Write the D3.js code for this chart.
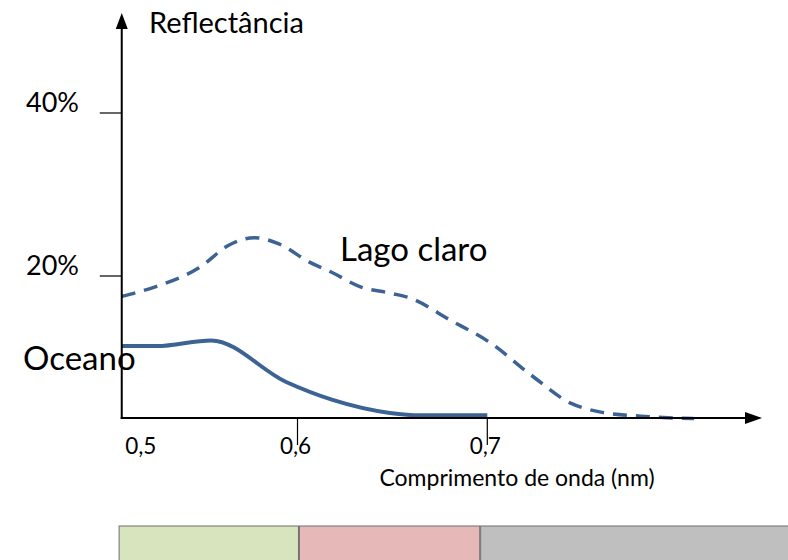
<!DOCTYPE html>
<html><head><meta charset="utf-8">
<script src="https://cdn.jsdelivr.net/npm/d3@7"></script>
<style>body{margin:0;background:#fff}svg{display:block}text{font-family:Lato,"Noto Sans",sans-serif;fill:#000}</style>
</head><body><svg id="c" width="788" height="560"></svg>
<script>
// ---- data ----
const xTicks = [0.5, 0.6, 0.7];
const xTickLabels = ["0,5", "0,6", "0,7"];
const yTicks = [20, 40];
const yTickLabels = ["20%", "40%"];
const oceanoX = [0.5074, 0.526, 0.5545, 0.594, 0.6185, 0.6487, 0.6646, 0.70];
const oceanoY = [11.4, 11.4, 12.1, 7.0, 4.8, 3.2, 2.9, 2.9];
const lagoX = [0.5074, 0.5254, 0.5481, 0.564, 0.5772, 0.5905, 0.6063, 0.6185, 0.6328, 0.6487, 0.6593, 0.6804, 0.7016, 0.7228, 0.7439, 0.7598, 0.781, 0.809];
const lagoY = [17.5, 18.7, 21.0, 23.8, 24.7, 23.9, 21.7, 20.4, 18.7, 17.9, 17.3, 14.6, 11.8, 7.9, 4.4, 3.3, 2.8, 2.5];
const bandStart = [0.506, 0.601, 0.6965];
const bandEnd = [0.6005, 0.696, 0.87];
const bandColors = ["#d7e4bd", "#e6b9b8", "#bfbfbf"];
const seriesNames = ["Oceano", "Lago claro"];

const svg = d3.select("#c");
const x = d3.scaleLinear().domain([0.6, 0.7]).range([297.5, 487.3]);
const y = d3.scaleLinear().domain([20, 40]).range([276, 113]);
const axX = x(0.5074), axY = 418;
const lineColor = "#3c6393";

// bands
svg.selectAll("rect.band").data(bandStart).join("rect")
  .attr("x", (d) => x(d)).attr("y", 526)
  .attr("width", (d, i) => x(bandEnd[i]) - x(d)).attr("height", 40)
  .attr("fill", (d, i) => bandColors[i]).attr("stroke", "#6e6e6e").attr("stroke-width", 1);

// lines
const line = d3.line().x(d => x(d[0])).y(d => y(d[1])).curve(d3.curveMonotoneX);
svg.append("path").datum(oceanoX.map((v, i) => [v, oceanoY[i]]))
  .attr("d", line).attr("fill", "none").attr("stroke", lineColor).attr("stroke-width", 4);
svg.append("path").datum(lagoX.map((v, i) => [v, lagoY[i]]))
  .attr("d", line).attr("fill", "none").attr("stroke", lineColor).attr("stroke-width", 3.5)
  .attr("stroke-dasharray", "14,9");

// axes
svg.append("line").attr("x1", axX).attr("x2", axX).attr("y1", 26).attr("y2", axY + 1).attr("stroke", "#000").attr("stroke-width", 2);
svg.append("line").attr("x1", axX - 1).attr("x2", 747).attr("y1", axY).attr("y2", axY).attr("stroke", "#000").attr("stroke-width", 2);
svg.append("path").attr("d", `M${axX},13 L${axX - 6},29 L${axX + 6},29 Z`).attr("fill", "#000");
svg.append("path").attr("d", `M762,${axY} L745,${axY - 6} L745,${axY + 6} Z`).attr("fill", "#000");

// y ticks
yTicks.forEach((t, i) => {
  svg.append("line").attr("x1", axX - 22).attr("x2", axX).attr("y1", y(t)).attr("y2", y(t)).attr("stroke", "#000").attr("stroke-width", 1.2);
  svg.append("text").attr("x", 26).attr("y", y(t) - 1).attr("font-size", 27).text(yTickLabels[i]);
});
// x ticks
xTicks.forEach((t, i) => {
  const px = x(t);
  if (px > axX + 5) svg.append("line").attr("x1", px).attr("x2", px).attr("y1", axY).attr("y2", axY + 27).attr("stroke", "#000").attr("stroke-width", 1.2);
  svg.append("text").attr("x", Math.max(px - 2, axX + 19)).attr("y", 454).attr("text-anchor", "middle").attr("font-size", 22.5).text(xTickLabels[i]);
});

// labels
svg.append("text").attr("x", 149).attr("y", 33).attr("font-size", 29).text("Reflectância");
svg.append("text").attr("x", 517).attr("y", 486).attr("text-anchor", "middle").attr("font-size", 23).text("Comprimento de onda (nm)");
svg.append("text").attr("x", 23).attr("y", 370).attr("font-size", 33).text(seriesNames[0]);
svg.append("text").attr("x", 340).attr("y", 261).attr("font-size", 33).text(seriesNames[1]);
</script></body></html>
